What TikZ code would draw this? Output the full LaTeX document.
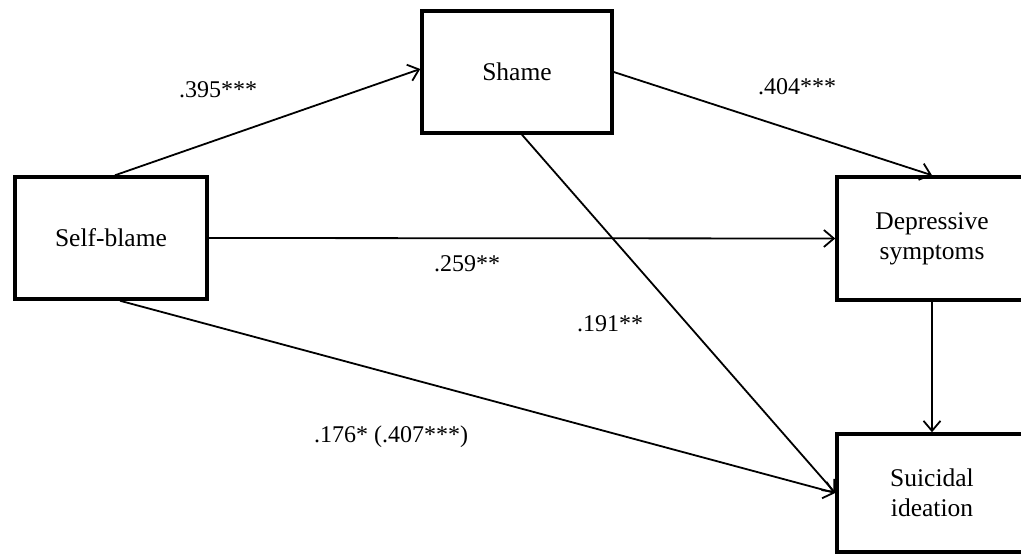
\documentclass[tikz,border=0pt]{standalone}
\usepackage{fontspec}
\setmainfont{Liberation Serif}
\usetikzlibrary{arrows.meta}
\begin{document}
\begin{tikzpicture}[x=1pt,y=-1pt,
  varbox/.style={draw,line width=3.5pt,rectangle,inner sep=0pt,minimum width=#1,
    align=center,font=\fontsize{25.5}{30}\selectfont},
  varbox/.default=192pt,
  path/.style={line width=1.8pt,-{Straight Barb[length=10pt,width=17pt,line width=1.8pt]}},
  coef/.style={font=\fontsize{24}{28}\selectfont,inner sep=0pt}]
\useasboundingbox (0,0) rectangle (1021,556);
\clip (0,0) rectangle (1021,556);
\fill[white] (0,0) rectangle (1021,556);
\node[varbox=192pt,minimum height=122pt] (sb) at (111,238) {Self-blame};
\node[varbox=190pt,minimum height=122pt] (sh) at (517,72) {Shame};
\node[varbox=190pt,minimum height=123pt] (dep) at (932,238.5) {Depressive\\symptoms};
\node[varbox=190pt,minimum height=118pt] (si) at (932,493) {Suicidal\\ideation};
\draw[path] ([xshift=4pt]sb.north) -- ([yshift=3pt]sh.west);
\draw[path] (sh.east) -- (dep.north);
\draw[path] (sb.east) -- (dep.west);
\draw[path] ([xshift=5pt]sh.south) -- (si.west);
\draw[path] ([xshift=9pt]sb.south) -- (si.west);
\draw[path] (dep.south) -- (si.north);
\node[coef] (c1) at (218,90) {.395***};
\node[coef] (c2) at (797,87) {.404***};
\node[coef] (c3) at (467,264) {.259**};
\node[coef] (c4) at (610,324) {.191**};
\node[coef] (c5) at (391,437) {.176* (.407***)};
\end{tikzpicture}
\end{document}
